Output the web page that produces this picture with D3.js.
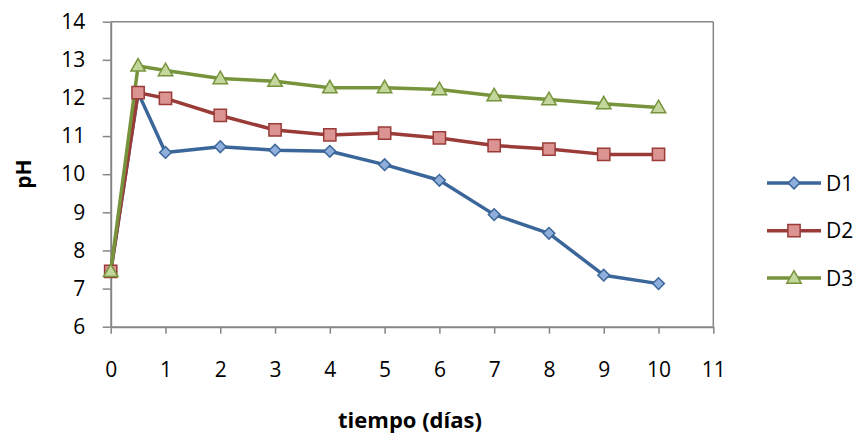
<!DOCTYPE html>
<html><head><meta charset="utf-8">
<script src="https://cdn.jsdelivr.net/npm/d3@7/dist/d3.min.js"></script>
<style>body{margin:0;background:#fff}svg text{font-family:"Open Sans",sans-serif}</style>
</head><body><svg id="c" width="860" height="436"></svg>
<script>
const days = [0, 0.5, 1, 2, 3, 4, 5, 6, 7, 8, 9, 10];
const d1 = [7.45, 12.14, 10.57, 10.72, 10.63, 10.60, 10.25, 9.84, 8.94, 8.45, 7.35, 7.13];
const d2 = [7.45, 12.14, 11.99, 11.54, 11.16, 11.03, 11.08, 10.95, 10.75, 10.66, 10.52, 10.52];
const d3v = [7.45, 12.84, 12.72, 12.51, 12.44, 12.27, 12.27, 12.22, 12.06, 11.96, 11.85, 11.75];
const seriesNames = ["D1", "D2", "D3"];
const xTicks = [0,1,2,3,4,5,6,7,8,9,10,11];
const yTicks = [6,7,8,9,10,11,12,13,14];

const svg = d3.select("#c");
const L = 110.7, R = 713.3, T = 21.7, B = 326.7;
const x = d3.scaleLinear().domain([0, 11]).range([L, R]);
const y = d3.scaleLinear().domain([6, 14]).range([B, T]);
const axisCol = "#868686";
const FS = 21;

// plot border
svg.append("line").attr("x1", L).attr("x2", R).attr("y1", T).attr("y2", T).attr("stroke", axisCol).attr("stroke-width", 1.5);
svg.append("line").attr("x1", R).attr("x2", R).attr("y1", T).attr("y2", B).attr("stroke", axisCol).attr("stroke-width", 1.5);

const xa = svg.append("g").attr("transform", `translate(0,${B})`)
  .call(d3.axisBottom(x).tickValues(xTicks).tickSize(7).tickSizeOuter(0));
const ya = svg.append("g").attr("transform", `translate(${L},0)`)
  .call(d3.axisLeft(y).tickValues(yTicks).tickSize(8).tickSizeOuter(0).tickPadding(17.5));
[xa, ya].forEach(a => {
  a.select(".domain").attr("stroke", axisCol).attr("stroke-width", 2);
  a.selectAll(".tick line").attr("stroke", axisCol).attr("stroke-width", 1.5);
  a.selectAll("text").attr("font-size", FS).attr("fill", "#000").style("font-family", "'Open Sans', sans-serif");
});
xa.selectAll("text").attr("dy", null).attr("y", 50.5);

svg.append("text").attr("x", 410).attr("y", 428).attr("text-anchor", "middle")
  .attr("font-size", 22).attr("font-weight", "bold").text("tiempo (días)");
svg.append("text").attr("transform", "translate(31,174) rotate(-90)").attr("text-anchor", "middle")
  .attr("font-size", 21).attr("font-weight", "bold").text("pH");

const styles = [
  {line: "#3B6699", fill: "#8FAEDB", stroke: "#3B6699", sym: d3.symbolSquare, size: 68, rot: 45, dy: 0},
  {line: "#9A3B38", fill: "#DB9492", stroke: "#9A3B38", sym: d3.symbolSquare, size: 150, rot: 0, dy: 0},
  {line: "#77943C", fill: "#C3D69B", stroke: "#77943C", sym: d3.symbolTriangle, size: 90, rot: 0, dy: 1}
];
const data = [d1, d2, d3v];
const line = d3.line().x((d, i) => x(days[i])).y(d => y(d));

data.forEach((s, k) => {
  svg.append("path").datum(s).attr("d", line).attr("fill", "none")
    .attr("stroke", styles[k].line).attr("stroke-width", 3.5).attr("stroke-linejoin", "round");
});
data.forEach((s, k) => {
  const st = styles[k];
  svg.append("g").selectAll("path").data(s).join("path")
    .attr("d", d3.symbol().type(st.sym).size(st.size))
    .attr("transform", (d, i) => `translate(${x(days[i])},${y(d) + st.dy}) rotate(${st.rot})`)
    .attr("fill", st.fill).attr("stroke", st.stroke).attr("stroke-width", 1.5);
});

// legend
const ly = [183, 230.7, 278];
seriesNames.forEach((n, k) => {
  const st = styles[k];
  const g = svg.append("g");
  g.append("line").attr("x1", 767).attr("x2", 821).attr("y1", ly[k]).attr("y2", ly[k])
    .attr("stroke", st.line).attr("stroke-width", 3.5);
  g.append("path").attr("d", d3.symbol().type(st.sym).size(st.size))
    .attr("transform", `translate(794,${ly[k] + st.dy}) rotate(${st.rot})`)
    .attr("fill", st.fill).attr("stroke", st.stroke).attr("stroke-width", 1.5);
  g.append("text").attr("x", 826).attr("y", ly[k] + 7.5).attr("font-size", FS).text(n);
});
</script></body></html>
